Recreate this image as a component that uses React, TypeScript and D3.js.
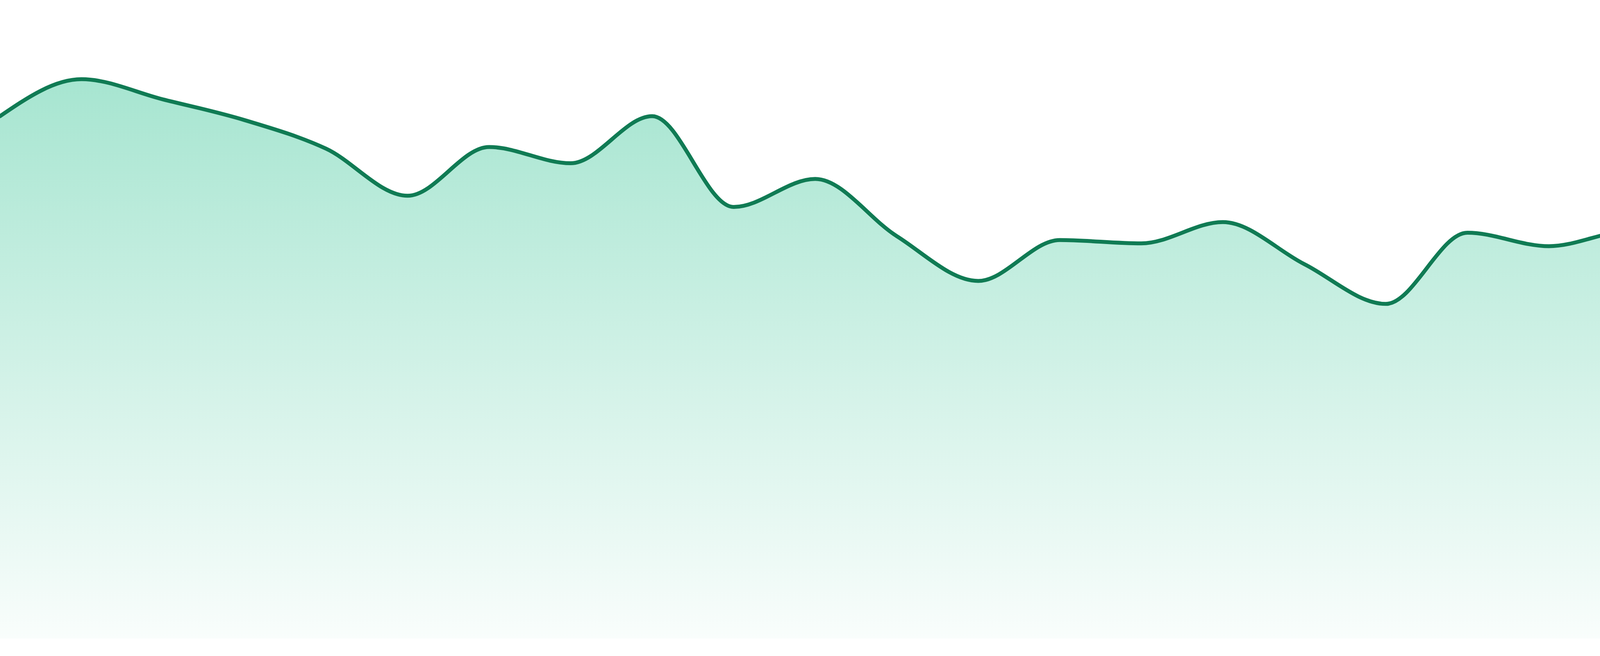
import React, { useRef, useEffect } from 'react';
import * as d3 from 'd3';

// evenly spaced samples, left to right
const indices: number[] = [
  0, 1, 2, 3, 4, 5, 6, 7, 8, 9, 10, 11,
  12, 13, 14, 15, 16, 17, 18, 19, 20, 21, 22, 23,
];

const values: number[] = [
  93.2, 99.8, 96.2, 92.5, 87.4, 79.0, 87.7, 84.8, 93.2, 77.0, 82.0, 71.8,
  63.8, 71.1, 70.5, 74.3, 66.8, 59.7, 72.4, 70.0, 72.7, 67.3, 65.9, 53.2,
];

const yDomain: number[] = [0, 100];

const AreaChart: React.FC<{ width?: number; height?: number }> = ({
  width = 4800,
  height = 1680,
}) => {
  const svgRef = useRef<SVGSVGElement>(null);

  useEffect(() => {
    if (!svgRef.current) return;

    d3.select(svgRef.current).selectAll('*').remove();

    const margin = { top: 0, right: 0, bottom: 45, left: 0 };
    const innerWidth = width - margin.left - margin.right;
    const innerHeight = height - margin.top - margin.bottom;

    const svg = d3
      .select(svgRef.current)
      .attr('width', width)
      .attr('height', height);

    const defs = svg.append('defs');
    const grad = defs
      .append('linearGradient')
      .attr('id', 'areaFill')
      .attr('x1', 0)
      .attr('y1', 0)
      .attr('x2', 0)
      .attr('y2', 1);
    grad.append('stop').attr('offset', '0%').attr('stop-color', '#10b981').attr('stop-opacity', 0.37);
    grad.append('stop').attr('offset', '100%').attr('stop-color', '#10b981').attr('stop-opacity', 0.025);

    const g = svg
      .append('g')
      .attr('transform', `translate(${margin.left},${margin.top})`);

    const xScale = d3
      .scaleLinear()
      .domain([0, indices.length - 1])
      .range([0, innerWidth]);

    const yScale = d3
      .scaleLinear()
      .domain(yDomain)
      .range([innerHeight, 200]);

    const area = d3
      .area<number>()
      .x((_, i) => xScale(indices[i]))
      .y0(innerHeight)
      .y1((d) => yScale(d))
      .curve(d3.curveMonotoneX);

    const line = d3
      .line<number>()
      .x((_, i) => xScale(indices[i]))
      .y((d) => yScale(d))
      .curve(d3.curveMonotoneX);

    g.append('path')
      .datum(values)
      .attr('d', area)
      .attr('fill', 'url(#areaFill)');

    g.append('path')
      .datum(values)
      .attr('d', line)
      .attr('fill', 'none')
      .attr('stroke', '#107b54')
      .attr('stroke-width', 10)
      .attr('stroke-linejoin', 'round')
      .attr('stroke-linecap', 'round');
  }, [width, height]);

  return (
    <svg
      ref={svgRef}
      style={{ position: 'absolute', left: 0, top: 0, display: 'block', background: '#fff' }}
    ></svg>
  );
};

export default function App() {
  return <AreaChart />;
}
